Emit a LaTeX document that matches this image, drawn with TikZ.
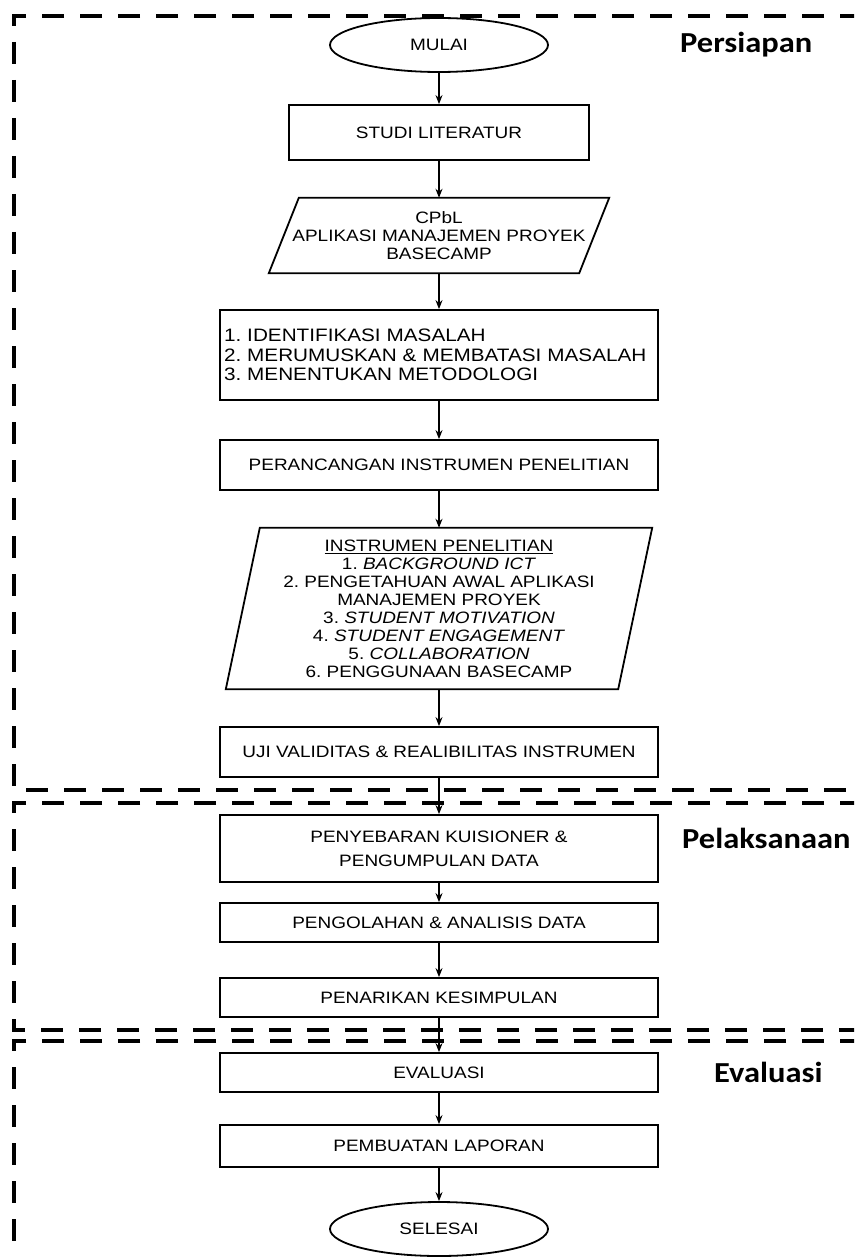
\documentclass[tikz,border=0pt]{standalone}
\usepackage{fontspec}
\setmainfont{Liberation Sans}[FakeStretch=1.15]
\newfontfamily\phasefont{Carlito}[FakeStretch=1.12]
\usetikzlibrary{shapes.geometric,arrows.meta}
\frenchspacing
\tikzset{
  procbox/.style={draw, line width=1.8pt, minimum width=438pt, minimum height=50pt, inner sep=0pt, align=center, font=\fontsize{16.5}{18}\selectfont},
  term/.style={draw, ellipse, line width=1.8pt, minimum width=218pt, minimum height=54pt, inner sep=0pt, font=\fontsize{16.5}{18}\selectfont},
  ioshape/.style={inner sep=0pt, align=center, font=\fontsize{16.5}{18}\selectfont},
  ioline/.style={line width=1.8pt, line join=miter},
  flow/.style={-{Stealth[length=9pt,width=7pt]}, line width=1.3pt},
  zone/.style={dash pattern=on 22pt off 16pt, line width=3.8pt},
  phase/.style={anchor=west, inner sep=0pt, font=\phasefont\bfseries\fontsize{29}{30}\selectfont}
}
\begin{document}
\begin{tikzpicture}[x=1pt,y=-1pt]
\useasboundingbox (0,0) rectangle (854,1257);
\fill[white] (0,0) rectangle (854,1257);
\clip (0,0) rectangle (854,1257);

% zones
\draw[zone] (900,16) -- (14,16) -- (14,790) -- (900,790);
\draw[zone] (900,803) -- (14,803) -- (14,1030) -- (900,1030);
\draw[zone] (900,1041) -- (14,1041) -- (14,1300);

\node[phase] (lp) at (680,45) {Persiapan};
\node[phase] (lk) at (682,838) {Pelaksanaan};
\node[phase] (le) at (714,1072) {Evaluasi};

% nodes
\node[term] (mulai) at (439,45) {MULAI};
\node[procbox, minimum width=300pt, minimum height=55pt] (studi) at (439,132.5) {STUDI LITERATUR};
\node[ioshape, minimum width=310pt, minimum height=75pt] (cpbl) at (439,235.5) {CPbL\\APLIKASI MANAJEMEN PROYEK\\BASECAMP};
\draw[ioline] ([xshift=-15pt]cpbl.south west) -- ([xshift=-15pt]cpbl.south east) -- ([xshift=15pt]cpbl.north east) -- ([xshift=15pt]cpbl.north west) -- cycle;
\node[procbox, minimum height=90pt, text width=430pt, align=left, font=\fontsize{18}{19.5}\selectfont] (ident) at (439,355) {1. IDENTIFIKASI MASALAH\\2. MERUMUSKAN \& MEMBATASI MASALAH\\3. MENENTUKAN METODOLOGI};
\node[procbox] (peranc) at (439,465) {PERANCANGAN INSTRUMEN PENELITIAN};
\node[ioshape, minimum width=392pt, minimum height=161pt] (instr) at (439,608.5) {\underline{INSTRUMEN PENELITIAN}\\1. \textit{BACKGROUND ICT}\\2. PENGETAHUAN AWAL APLIKASI\\MANAJEMEN PROYEK\\3. \textit{STUDENT MOTIVATION}\\4. \textit{STUDENT ENGAGEMENT}\\5. \textit{COLLABORATION}\\6. PENGGUNAAN BASECAMP};
\draw[ioline] ([xshift=-17pt]instr.south west) -- ([xshift=-17pt]instr.south east) -- ([xshift=17pt]instr.north east) -- ([xshift=17pt]instr.north west) -- cycle;
\node[procbox] (uji) at (439,752) {UJI VALIDITAS \& REALIBILITAS INSTRUMEN};
\node[procbox, minimum height=67pt, font=\fontsize{16.5}{24}\selectfont] (penyeb) at (439,848.5) {PENYEBARAN KUISIONER \&\\PENGUMPULAN DATA};
\node[procbox, minimum height=39pt] (pengol) at (439,922.5) {PENGOLAHAN \& ANALISIS DATA};
\node[procbox, minimum height=39pt] (penar) at (439,997.5) {PENARIKAN KESIMPULAN};
\node[procbox, minimum height=39pt] (eval) at (439,1072.5) {EVALUASI};
\node[procbox, minimum height=42pt] (lapor) at (439,1146) {PEMBUATAN LAPORAN};
\node[term] (selesai) at (439,1229) {SELESAI};

% connectors
\draw[flow] (mulai) -- (studi);
\draw[flow] (studi) -- (cpbl);
\draw[flow] (cpbl) -- (ident);
\draw[flow] (ident) -- (peranc);
\draw[flow] (peranc) -- (instr);
\draw[flow] (instr) -- (uji);
\draw[flow] (uji) -- (penyeb);
\draw[flow] (penyeb) -- (pengol);
\draw[flow] (pengol) -- (penar);
\draw[flow] (penar) -- (eval);
\draw[flow] (eval) -- (lapor);
\draw[flow] (lapor) -- (selesai);
\end{tikzpicture}
\end{document}
